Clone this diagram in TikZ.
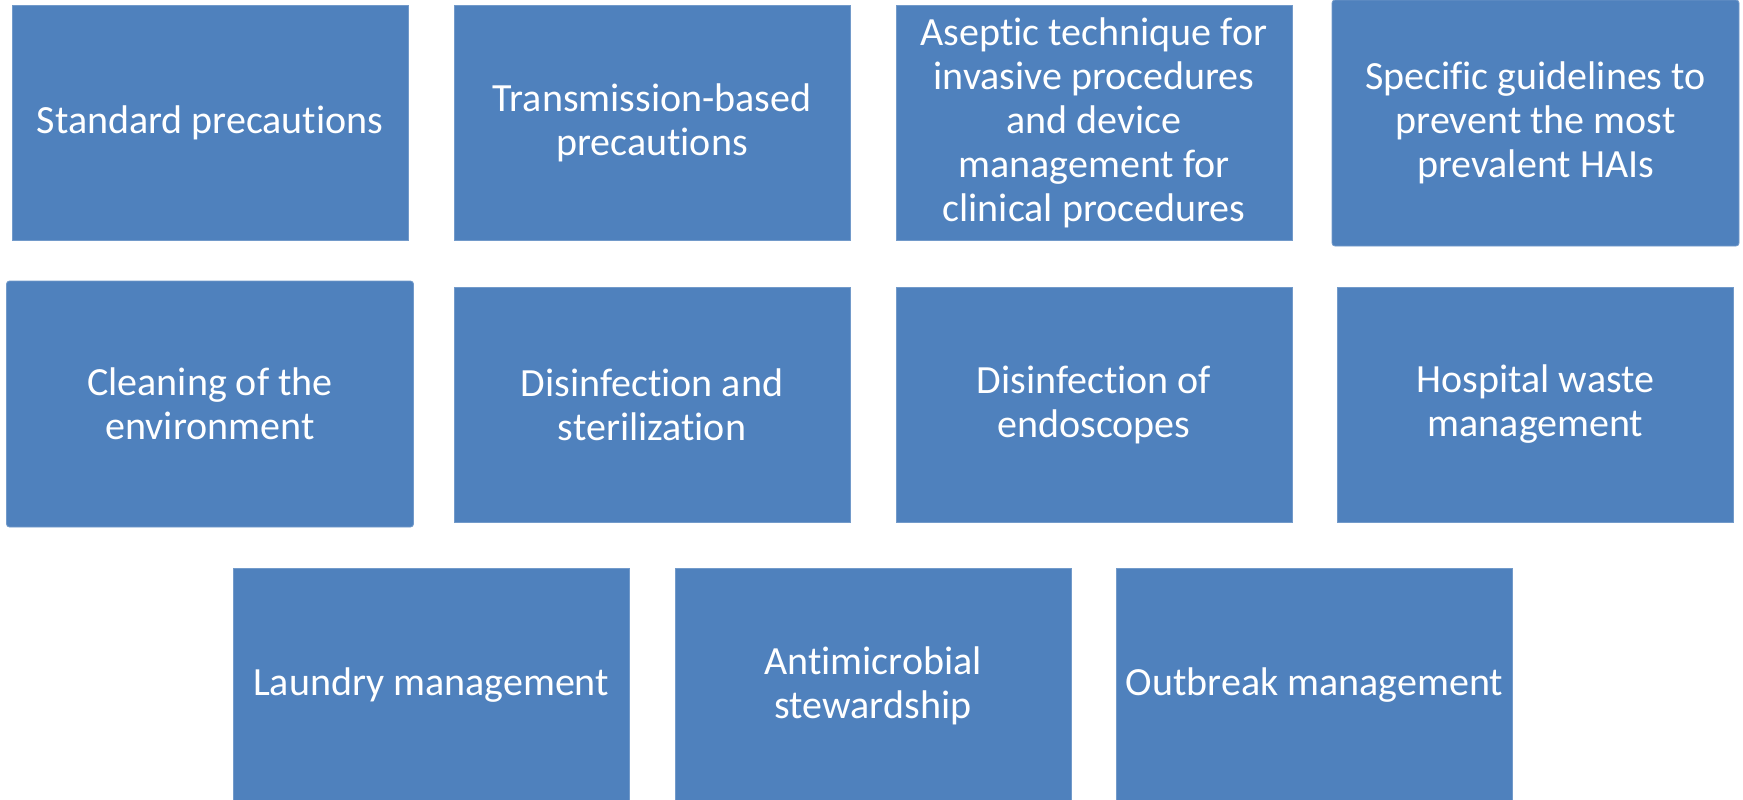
\documentclass[tikz,border=0pt]{standalone}
\usepackage{fontspec}
\setmainfont{Carlito}[RawFeature={-liga;-clig;-calt}]
\usepackage{tikz}
\usepackage{xcolor}
\definecolor{boxblue}{RGB}{79,129,189}
\tikzset{every picture/.style={line width=0.75pt}}
\tikzset{topic/.style={fill=boxblue, draw=boxblue!80!white, line width=0.4pt,
    minimum width=198pt, minimum height=117.5pt, inner sep=2pt,
    text=white, align=center, font=\fontsize{20}{22}\selectfont},
  topicbig/.style={topic, minimum width=203.5pt, minimum height=123pt, rounded corners=1.5pt}}

\begin{document}
\begin{tikzpicture}[x=0.5pt,y=0.5pt,yscale=-1,xscale=1]
\useasboundingbox (0,0) rectangle (1743,799);

%Shape: Rectangle, first row
\node [topic] (standard) at (210,122.5) {Standard precautions};
\node [topic] (transmission) at (652,122.5) {Transmission-based\\precautions};
\node [topic] (aseptic) at (1094,122.5) {Aseptic technique for\\invasive procedures\\and device\\management for\\clinical procedures};
\node [topicbig] (guidelines) at (1535.5,123) {Specific guidelines to\\prevent the most\\prevalent HAIs};

%Shape: Rectangle, second row
\node [topicbig] (cleaning) at (210,404) {Cleaning of the\\environment};
\node [topic] (disinfection) at (652,404.5) {Disinfection and\\sterilization};
\node [topic] (endoscopes) at (1094,404.5) {Disinfection of\\endoscopes};
\node [topic] (waste) at (1535.5,404.5) {Hospital waste\\management};

%Shape: Rectangle, third row
\node [topic] (laundry) at (431,685.5) {Laundry management};
\node [topic] (stewardship) at (873,685.5) {Antimicrobial\\stewardship};
\node [topic] (outbreak) at (1314.5,685.5) {Outbreak management};

\end{tikzpicture}
\end{document}
